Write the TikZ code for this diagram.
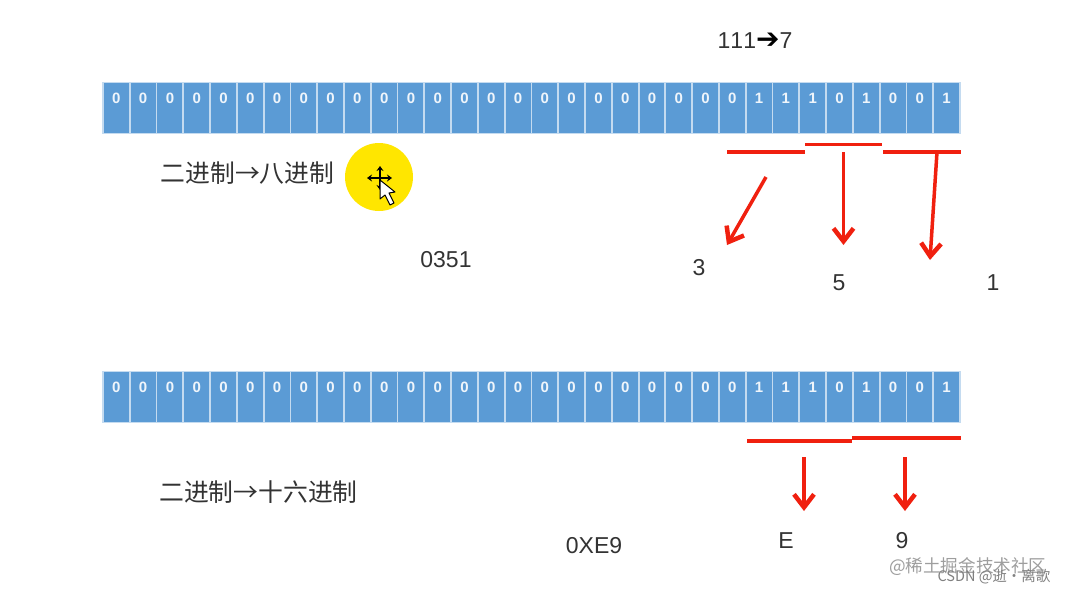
\documentclass[tikz,border=0pt]{standalone}
\usepackage{fontspec}
\setmainfont[Kerning=Off]{Liberation Sans}
\newfontfamily\cjk{Noto Sans CJK SC}
\newfontfamily\symb{DejaVu Sans}
\usetikzlibrary{arrows.meta,positioning}
\definecolor{cellblue}{HTML}{5B9BD5}
\definecolor{celledge}{HTML}{C4DBF0}
\definecolor{barred}{HTML}{F0200F}
\definecolor{spot}{HTML}{FFE600}
\begin{document}
\begin{tikzpicture}[
    x=1pt, y=-1pt,
    every node/.style={font=\fontsize{23}{25}\selectfont, text=black!80},
    cell/.style={draw=celledge, fill=cellblue, line width=1.8pt, minimum width=26.78pt, inner xsep=0pt, inner ysep=0pt, outer sep=0pt, text height=21pt, text depth=30pt, font=\fontsize{15}{17}\selectfont\bfseries, text=white!90!cellblue},
    title/.style={font=\fontsize{24.8}{27}\selectfont\cjk, text=black!80},
    mark text/.style={font=\fontsize{17.6}{20}\selectfont\cjk, text=black!38},
    bar/.style={draw=barred, line width=3.5pt},
    flow/.style={-{Straight Barb[length=13pt,width=20pt,line width=4.5pt]}, draw=barred, line width=3.5pt}
]
\useasboundingbox (0,0) rectangle (1066,595);
\fill[white] (0,0) rectangle (1066,595);

% two rows of bits
\foreach \row/\ymid in {octal/108,hex/397}{
  \coordinate (\row0) at (103,\ymid);
  \foreach \bit [count=\i, remember=\i as \lasti (initially 0)] in {0,0,0,0,0,0,0,0,0,0,0,0,0,0,0,0,0,0,0,0,0,0,0,0,1,1,1,0,1,0,0,1}
    \node[cell, right=0pt of \row\lasti] (\row\i) {\bit};
}

\node (octalsum) at (755,41) {111{\symb\bfseries\fontsize{28}{28}\selectfont\textcolor{black}{\char"2794}}7};
\node[title] (octaltitle) at (247.5,173) {二进制→八进制};
\node (octalvalue) at (446,260) {0351};
\node (digit3) at (699,268) {3};
\node (digit5) at (839,283) {5};
\node (digit1) at (993,283) {1};

\node[title] (hextitle) at (258.5,492) {二进制→十六进制};
\node (hexvalue) at (594,546) {0XE9};
\node (digitE) at (786,541) {E};
\node (digit9) at (902,541) {9};

% red bars under the groups
\coordinate (bar1a) at (727,152);
\coordinate (bar1b) at (805,152);
\coordinate (bar2a) at (805,144.5);
\coordinate (bar2b) at (882,144.5);
\coordinate (bar3a) at (883,152);
\coordinate (bar3b) at (961,152);
\coordinate (bar4a) at (747,441);
\coordinate (bar4b) at (852,441);
\coordinate (bar5a) at (852,438);
\coordinate (bar5b) at (961,438);
\draw[bar] (bar1a) -- (bar1b);
\draw[bar] (bar2a) -- (bar2b);
\draw[bar] (bar3a) -- (bar3b);
\draw[bar] (bar4a) -- (bar4b);
\draw[bar] (bar5a) -- (bar5b);

% arrows down to the digits
\coordinate (from3) at (766,177);
\coordinate (to3) at (727,245);
\coordinate (from5) at (843.5,152);
\coordinate (to5) at (843.5,245);
\coordinate (from1) at (937,152);
\coordinate (to1) at (930,260);
\coordinate (fromE) at (804,457);
\coordinate (toE) at (804,511);
\coordinate (from9) at (905,457);
\coordinate (to9) at (905,511);
\draw[flow] (from3) -- (to3);
\draw[flow] (from5) -- (to5);
\draw[flow] (from1) -- (to1);
\draw[flow] (fromE) -- (toE);
\draw[flow] (from9) -- (to9);

% mouse pointer in the yellow spot
\fill[spot] (379,177) circle (34);
\draw[black, line width=1.4pt, {Stealth[length=5pt,width=7pt]}-{Stealth[length=5pt,width=7pt]}] (367,178) -- (392,178);
\draw[black, line width=1.4pt, {Stealth[length=5pt,width=7pt]}-{Stealth[length=5pt,width=7pt]}] (380,166) -- (380,190);
\draw[black, fill=white, line width=1pt, line join=round] (380,180) -- (380,199) -- (385,195) -- (390,205) -- (394,203) -- (389,193) -- (395,192) -- cycle;

\node[mark text, anchor=east] (markone) at (1050,567) {@稀土掘金技术社区};
\node[mark text, anchor=east, font=\fontsize{14.5}{17}\selectfont\cjk, text=black!50] (marktwo) at (1054,577) {CSDN @逝·离歌};
\end{tikzpicture}
\end{document}
